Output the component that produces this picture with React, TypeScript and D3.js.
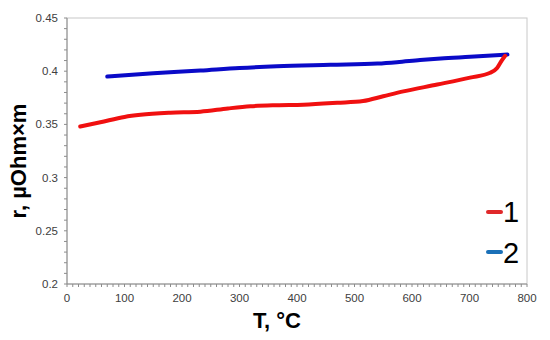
import React from "react";
import * as d3 from "d3";

const T1 = [23, 58, 100, 128, 180, 232, 280, 319, 365, 411, 470, 515, 550, 585, 644, 701, 736, 748, 756, 762];
const R1 = [0.348, 0.352, 0.357, 0.359, 0.361, 0.362, 0.365, 0.367, 0.368, 0.3685, 0.3703, 0.372, 0.3765, 0.381, 0.3875, 0.394, 0.3985, 0.403, 0.41, 0.4145];
const T2 = [70, 150, 232, 300, 365, 458, 540, 574, 614, 650, 701, 766];
const R2 = [0.395, 0.398, 0.4006, 0.403, 0.4046, 0.406, 0.4072, 0.4085, 0.4105, 0.412, 0.4135, 0.4156];
const xTicks = [0, 100, 200, 300, 400, 500, 600, 700, 800];
const yTicks = [0.2, 0.25, 0.3, 0.35, 0.4, 0.45];
const yTickLabels = ["0.2", "0.25", "0.3", "0.35", "0.4", "0.45"];
const legendLabels = ["1", "2"];

export default function App() {
  const left = 67, right = 527, top = 18, bottom = 284;
  const x = d3.scaleLinear().domain([0, 800]).range([left, right]);
  const y = d3.scaleLinear().domain([0.2, 0.45]).range([bottom, top]);
  const line = d3
    .line<[number, number]>()
    .x((d) => x(d[0]))
    .y((d) => y(d[1]))
    .curve(d3.curveMonotoneX);
  const d1 = line(T1.map((t, i) => [t, R1[i]]));
  const d2 = line(T2.map((t, i) => [t, R2[i]]));
  const xMinor = d3.range(0, 801, 10);
  const yMinor = d3.range(0, 26).map((i) => 0.2 + i * 0.01);
  const axisColor = "#8c8c8c";
  const font = "Arial, 'Liberation Sans', sans-serif";
  return (
    <svg
      width={550}
      height={340}
      style={{ position: "fixed", left: 0, top: 0, background: "#fff" }}
      fontFamily={font}
    >
      <rect x={0} y={0} width={550} height={340} fill="#fff" />
      <rect x={left} y={top} width={right - left} height={bottom - top} fill="none" stroke="#c8c8c8" strokeWidth={1} />
      {xMinor.map((t) => (
        <line key={"xm" + t} x1={x(t)} x2={x(t)} y1={bottom} y2={bottom + 3} stroke={axisColor} strokeWidth={1} />
      ))}
      {yMinor.map((v, i) => (
        <line key={"ym" + i} x1={left - 3} x2={left} y1={y(v)} y2={y(v)} stroke={axisColor} strokeWidth={1} />
      ))}
      <line x1={left} x2={right} y1={bottom} y2={bottom} stroke={axisColor} strokeWidth={1} />
      <line x1={left} x2={left} y1={top} y2={bottom} stroke={axisColor} strokeWidth={1} />
      {xTicks.map((t) => (
        <text key={"xt" + t} x={x(t)} y={302} textAnchor="middle" fontSize={11.5} fill="#404040">
          {t}
        </text>
      ))}
      {yTicks.map((v, i) => (
        <text key={"yt" + i} x={58} y={y(v) + 4} textAnchor="end" fontSize={11.5} fill="#404040">
          {yTickLabels[i]}
        </text>
      ))}
      <path d={d2 || ""} fill="none" stroke="#0a0ac8" strokeWidth={4} strokeLinecap="round" strokeLinejoin="round" />
      <path d={d1 || ""} fill="none" stroke="#f01010" strokeWidth={4} strokeLinecap="round" strokeLinejoin="round" />
      <text x={277} y={328} textAnchor="middle" fontSize={22} fontWeight="bold" fill="#000">
        T, °C
      </text>
      <text
        transform={`translate(26,161) rotate(-90)`}
        textAnchor="middle"
        fontSize={22}
        fontWeight="bold"
        fill="#000"
      >
        r, µOhm×m
      </text>
      <line x1={488} x2={501} y1={212} y2={212} stroke="#e0282a" strokeWidth={4} strokeLinecap="round" />
      <line x1={488} x2={501} y1={252} y2={252} stroke="#1a70b8" strokeWidth={4} strokeLinecap="round" />
      <text x={503} y={222} fontSize={29} fill="#000">
        {legendLabels[0]}
      </text>
      <text x={503} y={263} fontSize={29} fill="#000">
        {legendLabels[1]}
      </text>
    </svg>
  );
}
